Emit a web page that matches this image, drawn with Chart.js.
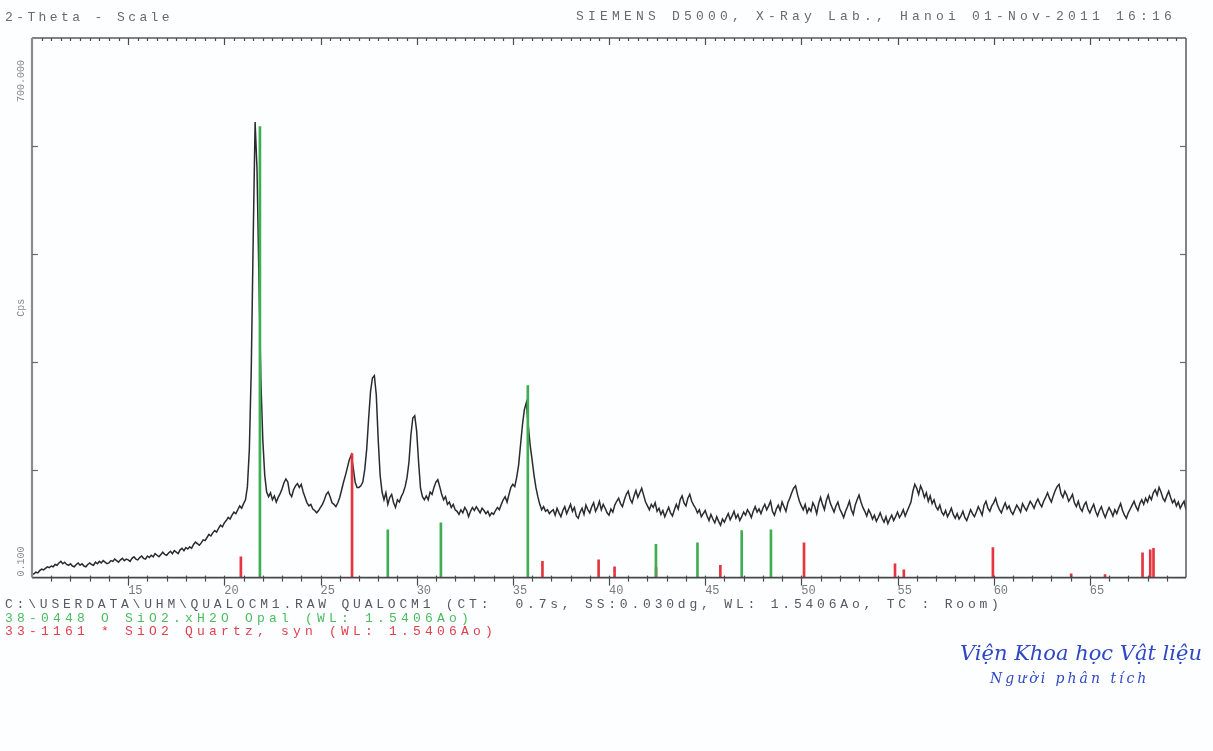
<!DOCTYPE html>
<html>
<head>
<meta charset="utf-8">
<title>QUALOCM1 – XRD pattern</title>
<script src="https://cdn.jsdelivr.net/npm/chart.js@4.4.1/dist/chart.umd.min.js"></script>
<style>
  html, body { margin: 0; padding: 0; background: #fdfeff; }
  #page { position: relative; width: 1213px; height: 751px; overflow: hidden; }
  #xrd { position: absolute; left: 0; top: 0; }
  .mono {
    position: absolute; white-space: pre;
    font-family: 'Liberation Mono', 'DejaVu Sans Mono', monospace;
    font-size: 13px; line-height: 14px; letter-spacing: 4px; color: #6a6a6a;
  }
  .hand {
    position: absolute; white-space: pre;
    font-family: 'DejaVu Serif', 'Liberation Serif', serif;
    font-style: italic; color: #2f48c6;
  }
</style>
</head>
<body>
<div id="page">
  <canvas id="xrd" width="1213" height="751"></canvas>

  <div class="mono" style="left:5px; top:11px; letter-spacing:3.4px;">2-Theta - Scale</div>
  <div class="mono" style="left:576px; top:10px; letter-spacing:4.2px;">SIEMENS D5000, X-Ray Lab., Hanoi 01-Nov-2011 16:16</div>

  <div class="mono" style="left:5px; top:598px; color:#585864; letter-spacing:3.8px;">C:\USERDATA\UHM\QUALOCM1.RAW QUALOCM1 (CT:  0.7s, SS:0.030dg, WL: 1.5406Ao, TC : Room)</div>
  <div class="mono" style="left:5px; top:612px; color:#4cbc5f; letter-spacing:4.2px;">38-0448 O SiO2.xH2O Opal (WL: 1.5406Ao)</div>
  <div class="mono" style="left:5px; top:625px; color:#e13f4b; letter-spacing:4.2px;">33-1161 * SiO2 Quartz, syn (WL: 1.5406Ao)</div>

  <div class="hand" style="left:960px; top:641px; font-size:21px;">Viện Khoa học Vật liệu</div>
  <div class="hand" style="left:990px; top:670px; font-size:14px; letter-spacing:3px;">Người phân tích</div>
</div>

<script>
// ---- Measured scan (Cps), stored as segments of constant step ----
const lowAngleStart = 10.0, lowAngleStep = 0.1;
const lowAngleCounts = [
  4, 5, 7, 6, 9, 11, 10, 12, 14, 13,
  15, 14, 17, 16, 19, 21, 18, 20, 17, 16,
  18, 15, 14, 17, 19, 16, 18, 15, 14, 17,
  19, 17, 16, 20, 18, 21, 19, 22, 20, 18,
  19, 22, 21, 24, 22, 20, 23, 25, 22, 24,
  23, 21, 25, 27, 24, 23, 26, 28, 25, 24,
  28, 26, 29, 27, 31, 29, 27, 30, 33, 30,
  29, 32, 34, 31, 35, 33, 31, 36, 38, 35,
  39, 37, 40, 38, 43, 46, 44, 42, 45, 49,
  48, 52, 56, 54, 58, 61, 59, 64, 68, 66,
  71, 74, 78, 76, 81, 85, 83
];

const peakZoneStart = 20.7, peakZoneStep = 0.1;
const peakZoneCounts = [
  88, 93, 90, 96, 101, 118, 166, 270, 438, 591,
  529, 386, 256, 179, 133, 111, 105, 110, 101, 106,
  98, 104, 109, 115, 123, 128, 124, 109, 105, 114,
  119, 122, 117, 121, 111, 104, 97, 93, 95, 89,
  87, 84, 87, 91, 95, 101, 108, 111, 105, 97,
  95, 92, 97, 104, 114, 124, 133, 143, 153, 159,
  143, 124, 117, 117, 119, 124, 140, 166, 205, 241,
  259, 262, 237, 179, 133, 111, 101, 110, 95, 104,
  108, 97, 91, 101, 98, 105, 110, 118, 130, 150,
  185, 207, 210, 190, 150, 116, 105, 101, 106, 101,
  111, 108, 117, 124, 127, 118, 108, 101, 105, 95,
  98, 91, 95, 88, 86, 82, 88, 84, 91, 87,
  79, 86, 91, 87, 92, 88, 84, 90, 87, 83,
  86, 80, 84, 82, 87, 91, 88, 95, 101, 105,
  98, 108, 117, 121, 118, 130, 146, 172, 198, 218,
  227, 198, 172, 153, 133, 117, 105, 95, 88, 92,
  86, 88, 83, 86
];

const highAngleStart = 37.1, highAngleStep = 0.1;
const highAngleCounts = [
  88, 81, 90, 84, 79, 87, 92, 83, 89, 95,
  86, 91, 80, 77, 85, 90, 82, 94, 88, 84,
  92, 97, 86, 91, 99, 88, 95, 90, 84, 81,
  89, 85, 94, 99, 103, 96, 92, 101, 108, 112,
  102, 97, 106, 113, 104, 110, 116, 107, 98, 93,
  88, 95, 91, 97, 86, 90, 82, 87, 79, 85,
  91, 84, 80, 88, 95, 89, 101, 106, 97, 93,
  103, 108, 99, 94, 90, 84, 88, 79, 83, 87,
  80, 74, 82, 76, 71, 79, 73, 68, 76, 72,
  78, 83, 75, 80, 86, 77, 82, 74, 79, 85,
  81, 88, 84, 78, 86, 92, 85, 89, 83, 90,
  95, 88, 93, 99, 86, 81, 89, 94, 87, 98,
  92, 86, 97, 103, 110, 116, 119, 108, 99, 93,
  88, 95, 84, 90, 86, 97, 92, 83, 96, 104,
  95, 88, 100, 107, 97, 91, 85, 93, 98, 89,
  84, 78, 86, 92, 99, 88, 82, 94, 101, 107,
  98, 91, 86, 80, 88, 83, 76, 81, 73, 78,
  84, 77, 72, 79, 70, 76, 81, 74, 79, 85,
  78, 82, 88, 80, 86, 92, 98, 112, 121, 116,
  108, 119, 113, 104, 110, 99, 106, 96, 101, 92,
  88, 94, 85, 81, 87, 79, 84, 90, 82, 77,
  83, 76, 80, 86, 78, 74, 81, 88, 83, 79,
  85, 92, 87, 81, 94, 99, 90, 86, 93, 97,
  103, 94, 88, 84, 91, 97, 89, 93, 86, 82,
  88, 94, 90, 85, 96, 91, 87, 93, 99, 95,
  90, 97, 102, 96, 92, 99, 104, 110, 103, 98,
  106, 113, 118, 121, 109, 104, 112, 107, 99, 103,
  108, 97, 92, 99, 90, 86, 94, 98, 89, 84,
  90, 95, 86, 80, 87, 92, 84, 78, 85, 91,
  86, 80, 88, 83, 90, 96, 87, 81, 77, 84,
  89, 94, 99, 92, 87, 96, 101, 95, 103, 98,
  106, 101, 110, 114, 107, 117, 111, 103, 99, 106,
  112, 104, 97, 101, 93, 98, 90, 95, 99, 88
];

// ---- Reference patterns (stick positions in 2θ and heights in Cps) ----
const opalPositions   = [21.85, 28.50, 31.26, 35.78, 42.44, 44.60, 46.90, 48.42];
const opalHeights     = [585, 62, 71, 249, 43, 45, 61, 62];
const quartzPositions = [20.86, 26.64, 36.54, 39.46, 40.29, 42.45, 45.79, 50.14,
                         54.87, 55.33, 59.96, 64.03, 65.79, 67.74, 68.14, 68.31];
const quartzHeights   = [27, 161, 21, 23, 14, 13, 16, 45, 18, 10, 39, 5, 4, 32, 36, 38];

// ---- Axis text ----
const xTickLabels = [15, 20, 25, 30, 35, 40, 45, 50, 55, 60, 65];
const yBottomLabel = '0.100';
const yTopLabel = '700.000';
const yTitle = 'Cps';
const twoThetaMin = 10, twoThetaMax = 70;
const cpsMax = 700, cpsTickStep = 140;

// ---- Build the point list from the segments ----
function segmentPoints(start, step, counts) {
  return counts.map((c, i) => ({ x: +(start + i * step).toFixed(2), y: c }));
}
const scanPoints = [
  ...segmentPoints(lowAngleStart, lowAngleStep, lowAngleCounts),
  ...segmentPoints(peakZoneStart, peakZoneStep, peakZoneCounts),
  ...segmentPoints(highAngleStart, highAngleStep, highAngleCounts)
];
const sticks = (pos, h) => pos.map((p, i) => ({ x: p, y: h[i] }));

// ---- Frame, tick marks and rotated y texts ----
const plotFrame = {
  id: 'plotFrame',
  afterDraw(chart) {
    const { ctx, chartArea: a, scales: { x, y } } = chart;
    ctx.save();

    // frame sides
    ctx.lineCap = 'butt';
    const side = (x1, y1, x2, y2, w, c) => {
      ctx.beginPath(); ctx.lineWidth = w; ctx.strokeStyle = c;
      ctx.moveTo(x1, y1); ctx.lineTo(x2, y2); ctx.stroke();
    };
    side(a.left, a.top, a.right, a.top, 1.4, '#5a5a5a');
    side(a.right, a.top, a.right, a.bottom, 1.5, '#5a5a5a');
    side(a.left, a.bottom, a.right, a.bottom, 1.6, '#474747');
    side(a.left, a.top, a.left, a.bottom, 2.2, '#8c8c8c');

    // 2θ ticks: half-degree on top edge, whole degree on bottom edge
    ctx.strokeStyle = '#4a4a4a';
    ctx.lineWidth = 1.2;
    const halfSteps = (twoThetaMax - twoThetaMin) * 2;
    for (let i = 1; i < halfSteps; i++) {
      const v = twoThetaMin + i / 2;
      const px = Math.round(x.getPixelForValue(v)) + 0.5;
      const major = v % 5 === 0;
      ctx.beginPath();
      ctx.moveTo(px, a.top);
      ctx.lineTo(px, a.top + (major ? 7 : 3));
      ctx.stroke();
      if (Number.isInteger(v)) {
        ctx.beginPath();
        ctx.moveTo(px, a.bottom - 2);
        ctx.lineTo(px, a.bottom + (major ? 8 : 4));
        ctx.stroke();
      }
    }

    // Cps ticks, pointing inward on both sides
    ctx.strokeStyle = '#6a6a6a';
    for (let v = cpsTickStep; v < cpsMax; v += cpsTickStep) {
      const py = Math.round(y.getPixelForValue(v)) + 0.5;
      ctx.beginPath(); ctx.moveTo(a.left, py); ctx.lineTo(a.left + 6, py); ctx.stroke();
      ctx.beginPath(); ctx.moveTo(a.right, py); ctx.lineTo(a.right - 6, py); ctx.stroke();
    }

    // rotated y texts
    ctx.fillStyle = '#8a8a8a';
    ctx.font = '10px "Liberation Mono", "DejaVu Sans Mono", monospace';
    ctx.textBaseline = 'middle';
    const tx = a.left - 11;
    const rotated = (text, py, align) => {
      ctx.save();
      ctx.translate(tx, py);
      ctx.rotate(-Math.PI / 2);
      ctx.textAlign = align;
      ctx.fillText(text, 0, 0);
      ctx.restore();
    };
    rotated(yBottomLabel, y.getPixelForValue(0) - 1, 'left');
    rotated(yTopLabel, y.getPixelForValue(cpsMax) + 22, 'right');
    rotated(yTitle, (a.top + a.bottom) / 2, 'center');

    ctx.restore();
  }
};

new Chart(document.getElementById('xrd'), {
  type: 'scatter',
  data: {
    datasets: [
      {
        type: 'bar',
        label: '38-0448 Opal',
        data: sticks(opalPositions, opalHeights),
        backgroundColor: '#3fae52',
        borderWidth: 0,
        barThickness: 2,
        grouped: false,
        order: 1
      },
      {
        type: 'bar',
        label: '33-1161 Quartz, syn',
        data: sticks(quartzPositions, quartzHeights),
        backgroundColor: '#e6353f',
        borderWidth: 0,
        barThickness: 2,
        grouped: false,
        order: 2
      },
      {
        type: 'line',
        label: 'QUALOCM1',
        data: scanPoints,
        borderColor: '#2b2b2b',
        borderWidth: 1.5,
        pointRadius: 0,
        tension: 0,
        fill: false,
        order: 3
      }
    ]
  },
  options: {
    responsive: false,
    animation: false,
    events: [],
    layout: { padding: { left: 32, right: 27, top: 38, bottom: 147 } },
    plugins: { legend: { display: false }, tooltip: { enabled: false } },
    scales: {
      x: {
        type: 'linear',
        min: twoThetaMin,
        max: twoThetaMax,
        offset: false,
        grid: { display: false, drawTicks: false, offset: false },
        border: { display: false },
        ticks: {
          stepSize: 1,
          autoSkip: false,
          maxRotation: 0,
          align: 'start',
          padding: 6,
          color: '#7a7a7a',
          font: { family: "'Liberation Mono', 'DejaVu Sans Mono', monospace", size: 12 },
          callback: v => (xTickLabels.includes(Math.round(v)) && Math.abs(v - Math.round(v)) < 1e-6) ? String(Math.round(v)) : ''
        }
      },
      y: {
        type: 'linear',
        display: false,
        min: 0,
        max: cpsMax
      }
    }
  },
  plugins: [plotFrame]
});
</script>
</body>
</html>
